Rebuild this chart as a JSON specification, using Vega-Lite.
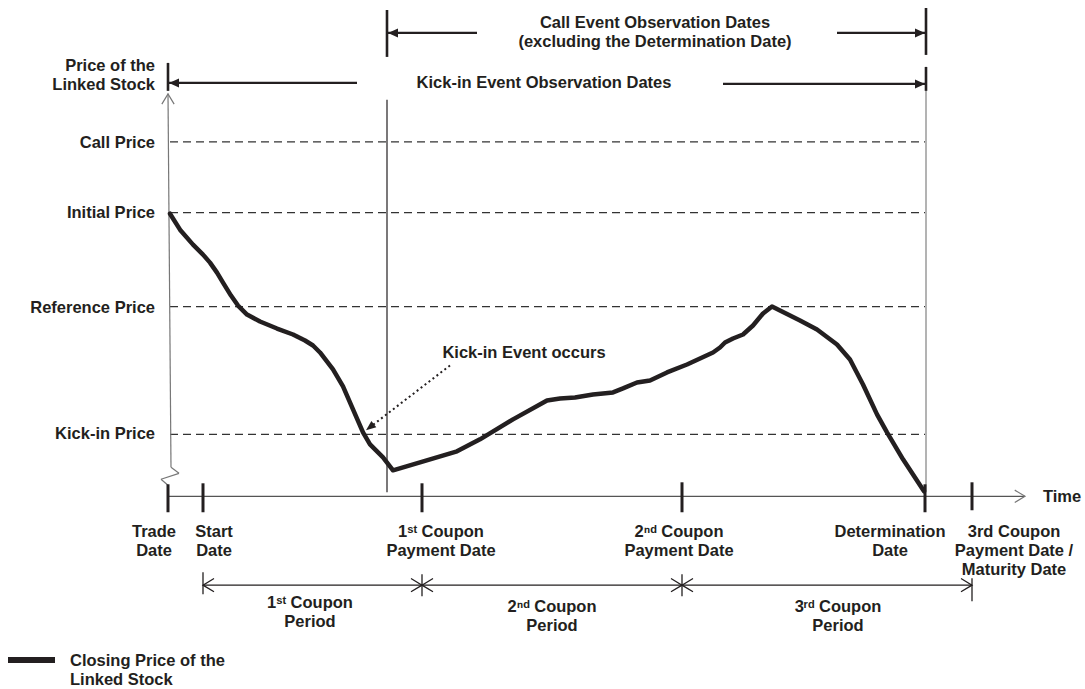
{
  "$schema": "https://vega.github.io/schema/vega-lite/v6.json",
  "width": 1085,
  "height": 689,
  "autosize": {"type": "fit", "contains": "padding"},
  "padding": 0,
  "background": "white",
  "config": {
    "view": {"stroke": null},
    "text": {"font": "Liberation Sans", "fontWeight": "bold", "fontSize": 16.5, "color": "#231f20", "lineBreak": "\n", "lineHeight": 19, "baseline": "alphabetic"}
  },
  "datasets": {
    "levels": [
      {"level": "Call Price", "t": 0, "t2": 755, "p": 355},
      {"level": "Initial Price", "t": 0, "t2": 755, "p": 284},
      {"level": "Reference Price", "t": 0, "t2": 755, "p": 190},
      {"level": "Kick-in Price", "t": 0, "t2": 755, "p": 62}
    ],
    "ylabels": [
      {"label": "Price of the\nLinked Stock", "t": -15, "p": 426},
      {"label": "Call Price", "t": -15, "p": 349},
      {"label": "Initial Price", "t": -15, "p": 279},
      {"label": "Reference Price", "t": -15, "p": 184},
      {"label": "Kick-in Price", "t": -15, "p": 57}
    ],
    "segs": [
      {"role": "yaxis", "t": -2, "p": 403, "t2": 1, "p2": 29},
      {"role": "yaxis", "t": 1, "p": 29, "t2": 9, "p2": 23},
      {"role": "yaxis", "t": 9, "p": 23, "t2": -9, "p2": 17},
      {"role": "yaxis", "t": -9, "p": 17, "t2": -2, "p2": 11},
      {"role": "xaxis", "t": -2, "p": 0, "t2": 855, "p2": 0},
      {"role": "dateTick", "t": -2, "p": -16, "t2": -2, "p2": 12},
      {"role": "dateTick", "t": 33, "p": -16, "t2": 33, "p2": 13},
      {"role": "dateTick", "t": 252, "p": -16, "t2": 252, "p2": 13},
      {"role": "dateTick", "t": 512, "p": -16, "t2": 512, "p2": 14},
      {"role": "dateTick", "t": 755, "p": -16, "t2": 755, "p2": 12},
      {"role": "dateTick", "t": 802, "p": -14, "t2": 802, "p2": 14},
      {"role": "period", "t": 33, "p": -89, "t2": 802, "p2": -89},
      {"role": "period", "t": 33, "p": -76, "t2": 33, "p2": -98},
      {"role": "period", "t": 252, "p": -78, "t2": 252, "p2": -100},
      {"role": "period", "t": 512, "p": -78, "t2": 512, "p2": -100},
      {"role": "period", "t": 802, "p": -82, "t2": 802, "p2": -105},
      {"role": "obsTick", "t": 217, "p": 487, "t2": 217, "p2": 440},
      {"role": "obsTick", "t": 756, "p": 489, "t2": 756, "p2": 442},
      {"role": "obsTick", "t": -2, "p": 434, "t2": -2, "p2": 406},
      {"role": "obsTick", "t": 756, "p": 430, "t2": 756, "p2": 406},
      {"role": "obsLine", "t": 217, "p": 464, "t2": 307, "p2": 464},
      {"role": "obsLine", "t": 667, "p": 464, "t2": 756, "p2": 464},
      {"role": "obsLine", "t": -2, "p": 414, "t2": 187, "p2": 414},
      {"role": "obsLine", "t": 553, "p": 413, "t2": 756, "p2": 413},
      {"role": "callStart", "t": 217, "p": 397, "t2": 217, "p2": 4},
      {"role": "determination", "t": 756, "p": 406, "t2": 756, "p2": 5},
      {"role": "legend", "t": -162, "p": -164, "t2": -115, "p2": -164},
      {"role": "pointer", "t": 280, "p": 131, "t2": 201, "p2": 70}
    ],
    "arrows": [
      {"kind": "filled", "dir": "tri-left", "t": 218, "p": 464},
      {"kind": "filled", "dir": "tri-right", "t": 755, "p": 464},
      {"kind": "filled", "dir": "tri-left", "t": -1, "p": 414},
      {"kind": "filled", "dir": "tri-right", "t": 755, "p": 413},
      {"kind": "filled", "dir": "tri-downleft", "t": 196, "p": 66},
      {"kind": "period", "dir": "chev-left", "t": 33, "p": -89},
      {"kind": "period", "dir": "chev-right", "t": 252, "p": -89},
      {"kind": "period", "dir": "chev-left", "t": 252, "p": -89},
      {"kind": "period", "dir": "chev-right", "t": 512, "p": -89},
      {"kind": "period", "dir": "chev-left", "t": 512, "p": -89},
      {"kind": "period", "dir": "chev-right", "t": 802, "p": -89},
      {"kind": "axis", "dir": "chev-up", "t": -2, "p": 403},
      {"kind": "axis", "dir": "chev-right", "t": 855, "p": 0}
    ],
    "price": [
      {"t": 0, "p": 283}, {"t": 10, "p": 267}, {"t": 23, "p": 252}, {"t": 33, "p": 242},
      {"t": 40, "p": 234}, {"t": 47, "p": 224}, {"t": 53, "p": 214}, {"t": 61, "p": 201},
      {"t": 68, "p": 191}, {"t": 77, "p": 182}, {"t": 90, "p": 175}, {"t": 107, "p": 168},
      {"t": 123, "p": 162}, {"t": 135, "p": 156}, {"t": 143, "p": 151}, {"t": 150, "p": 144},
      {"t": 163, "p": 127}, {"t": 173, "p": 110}, {"t": 183, "p": 87}, {"t": 193, "p": 64},
      {"t": 200, "p": 52}, {"t": 213, "p": 39}, {"t": 223, "p": 26}, {"t": 250, "p": 34},
      {"t": 287, "p": 45}, {"t": 310, "p": 57}, {"t": 343, "p": 77}, {"t": 377, "p": 96},
      {"t": 390, "p": 98}, {"t": 405, "p": 99}, {"t": 423, "p": 102}, {"t": 443, "p": 104},
      {"t": 453, "p": 108}, {"t": 467, "p": 114}, {"t": 480, "p": 116}, {"t": 497, "p": 124},
      {"t": 517, "p": 132}, {"t": 543, "p": 144}, {"t": 550, "p": 149}, {"t": 555, "p": 154},
      {"t": 563, "p": 158}, {"t": 573, "p": 162}, {"t": 583, "p": 171}, {"t": 593, "p": 183},
      {"t": 602, "p": 190}, {"t": 610, "p": 186}, {"t": 630, "p": 176}, {"t": 647, "p": 167},
      {"t": 667, "p": 152}, {"t": 680, "p": 137}, {"t": 693, "p": 112}, {"t": 707, "p": 82},
      {"t": 717, "p": 64}, {"t": 733, "p": 37}, {"t": 754, "p": 5}
    ],
    "clabels": [
      {"label": "Trade\nDate", "t": -16, "p": -41},
      {"label": "Start\nDate", "t": 44, "p": -41},
      {"label": "1ˢᵗ Coupon\nPayment Date", "t": 271, "p": -41},
      {"label": "2ⁿᵈ Coupon\nPayment Date", "t": 509, "p": -41},
      {"label": "Determination\nDate", "t": 720, "p": -41},
      {"label": "3rd Coupon\nPayment Date /\nMaturity Date", "t": 844, "p": -41},
      {"label": "1ˢᵗ Coupon\nPeriod", "t": 140, "p": -112},
      {"label": "2ⁿᵈ Coupon\nPeriod", "t": 382, "p": -116},
      {"label": "3ʳᵈ Coupon\nPeriod", "t": 668, "p": -116},
      {"label": "Call Event Observation Dates\n(excluding the Determination Date)", "t": 485, "p": 469},
      {"label": "Kick-in Event Observation Dates", "t": 374, "p": 409},
      {"label": "Kick-in Event occurs", "t": 354, "p": 138}
    ],
    "llabels": [
      {"label": "Time", "t": 873, "p": -6},
      {"label": "Closing Price of the\nLinked Stock", "t": -100, "p": -170}
    ]
  },
  "encoding": {
    "x": {"field": "t", "type": "quantitative", "scale": {"domain": [-170, 915], "nice": false, "zero": false}, "axis": null},
    "y": {"field": "p", "type": "quantitative", "scale": {"domain": [-192, 497], "nice": false, "zero": false}, "axis": null}
  },
  "layer": [
    {
      "data": {"name": "levels"},
      "mark": {"type": "rule", "strokeDash": [8, 5], "color": "#333333", "strokeWidth": 1.2},
      "encoding": {"x2": {"field": "t2"}}
    },
    {
      "data": {"name": "segs"},
      "transform": [{"filter": "datum.role === 'determination'"}],
      "mark": {"type": "rule", "color": "#b3b3b3", "strokeWidth": 2},
      "encoding": {"x2": {"field": "t2"}, "y2": {"field": "p2"}}
    },
    {
      "data": {"name": "segs"},
      "transform": [{"filter": "datum.role === 'yaxis'"}],
      "mark": {"type": "rule", "color": "#777777", "strokeWidth": 1.2},
      "encoding": {"x2": {"field": "t2"}, "y2": {"field": "p2"}}
    },
    {
      "data": {"name": "segs"},
      "transform": [{"filter": "datum.role === 'xaxis'"}],
      "mark": {"type": "rule", "color": "#555555", "strokeWidth": 1.2},
      "encoding": {"x2": {"field": "t2"}, "y2": {"field": "p2"}}
    },
    {
      "data": {"name": "segs"},
      "transform": [{"filter": "datum.role === 'callStart'"}],
      "mark": {"type": "rule", "color": "#231f20", "strokeWidth": 1.2},
      "encoding": {"x2": {"field": "t2"}, "y2": {"field": "p2"}}
    },
    {
      "data": {"name": "segs"},
      "transform": [{"filter": "datum.role === 'dateTick'"}],
      "mark": {"type": "rule", "color": "#231f20", "strokeWidth": 3},
      "encoding": {"x2": {"field": "t2"}, "y2": {"field": "p2"}}
    },
    {
      "data": {"name": "segs"},
      "transform": [{"filter": "datum.role === 'period'"}],
      "mark": {"type": "rule", "color": "#231f20", "strokeWidth": 1.3},
      "encoding": {"x2": {"field": "t2"}, "y2": {"field": "p2"}}
    },
    {
      "data": {"name": "segs"},
      "transform": [{"filter": "datum.role === 'obsTick'"}],
      "mark": {"type": "rule", "color": "#231f20", "strokeWidth": 2.6},
      "encoding": {"x2": {"field": "t2"}, "y2": {"field": "p2"}}
    },
    {
      "data": {"name": "segs"},
      "transform": [{"filter": "datum.role === 'obsLine'"}],
      "mark": {"type": "rule", "color": "#231f20", "strokeWidth": 2.2},
      "encoding": {"x2": {"field": "t2"}, "y2": {"field": "p2"}}
    },
    {
      "data": {"name": "segs"},
      "transform": [{"filter": "datum.role === 'legend'"}],
      "mark": {"type": "rule", "color": "#231f20", "strokeWidth": 6},
      "encoding": {"x2": {"field": "t2"}, "y2": {"field": "p2"}}
    },
    {
      "data": {"name": "segs"},
      "transform": [{"filter": "datum.role === 'pointer'"}],
      "mark": {"type": "rule", "color": "#231f20", "strokeWidth": 2, "strokeDash": [2, 3]},
      "encoding": {"x2": {"field": "t2"}, "y2": {"field": "p2"}}
    },
    {
      "data": {"name": "price"},
      "mark": {"type": "line", "color": "#231f20", "strokeWidth": 4.5, "strokeJoin": "round", "strokeCap": "round"},
      "encoding": {}
    },
    {
      "data": {"name": "arrows"},
      "transform": [{"filter": "datum.kind === 'filled'"}],
      "mark": {"type": "point", "filled": true, "opacity": 1, "color": "#231f20", "size": 400},
      "encoding": {
        "shape": {"field": "dir", "type": "nominal", "legend": null,
          "scale": {"domain": ["tri-left", "tri-right", "tri-downleft", "chev-left", "chev-right", "chev-up"],
                    "range": ["M0,0L1,-0.45L1,0.45Z", "M0,0L-1,-0.45L-1,0.45Z", "M0,0L1.03,-0.3L0.54,-0.93Z", "M1,-0.6L0,0L1,0.6", "M-1,-0.6L0,0L-1,0.6", "M-0.6,1L0,0L0.6,1"]}}
      }
    },
    {
      "data": {"name": "arrows"},
      "transform": [{"filter": "datum.kind === 'period'"}],
      "mark": {"type": "point", "filled": false, "opacity": 1, "color": "#231f20", "strokeWidth": 1.3, "size": 484},
      "encoding": {
        "shape": {"field": "dir", "type": "nominal", "legend": null}
      }
    },
    {
      "data": {"name": "arrows"},
      "transform": [{"filter": "datum.kind === 'axis'"}],
      "mark": {"type": "point", "filled": false, "opacity": 1, "color": "#777777", "strokeWidth": 1.2, "size": 420},
      "encoding": {
        "shape": {"field": "dir", "type": "nominal", "legend": null}
      }
    },
    {
      "data": {"name": "ylabels"},
      "mark": {"type": "text", "align": "right"},
      "encoding": {"text": {"field": "label"}}
    },
    {
      "data": {"name": "clabels"},
      "mark": {"type": "text", "align": "center"},
      "encoding": {"text": {"field": "label"}}
    },
    {
      "data": {"name": "llabels"},
      "mark": {"type": "text", "align": "left"},
      "encoding": {"text": {"field": "label"}}
    }
  ]
}
